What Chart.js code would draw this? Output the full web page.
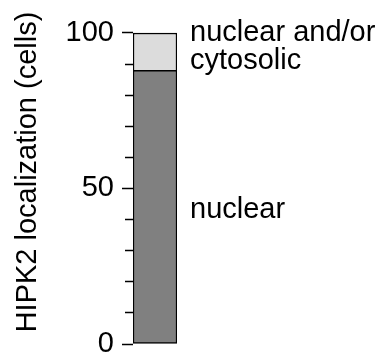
<!DOCTYPE html>
<html><head><meta charset="utf-8">
<script src="https://cdn.jsdelivr.net/npm/chart.js@4"></script>
<style>html,body{margin:0;padding:0;background:#fff}</style>
</head><body>
<canvas id="c" width="386" height="356"></canvas>
<script>
// ---- data ----
const categories = [''];
const nuclearValues = [88];
const nuclearOrCytosolicValues = [12];
const segmentNames = ['nuclear', ['nuclear and/or', 'cytosolic']];
const segmentLabelValues = [43, 95.5];
const yTickValues = [0, 10, 20, 30, 40, 50, 60, 70, 80, 90, 100];
const yLabeledTicks = [0, 50, 100];
const yTitle = 'HIPK2 localization (cells)';

const FONT = "'Liberation Sans', Arial, Helvetica, sans-serif";
const yMin = 0, yMax = 101.56;

new Chart(document.getElementById('c'), {
  type: 'bar',
  data: {
    labels: categories,
    datasets: [
      {label: 'nuclear', data: nuclearValues, backgroundColor: '#808080', borderColor: '#000000',
       borderWidth: 1.5, borderSkipped: false, barPercentage: 1, categoryPercentage: 1},
      {label: 'nuclear and/or cytosolic', data: nuclearOrCytosolicValues, backgroundColor: '#dcdcdc', borderColor: '#000000',
       borderWidth: 1.5, borderSkipped: 'bottom', barPercentage: 1, categoryPercentage: 1}
    ]
  },
  options: {
    responsive: false,
    animation: false,
    layout: {padding: {top: 0, bottom: 12, left: 0, right: 0}},
    plugins: {
      legend: {display: false},
      tooltip: {enabled: false},
      title: {display: true, position: 'left', text: yTitle, color: '#000',
        font: {family: FONT, size: 29, weight: 'normal'}, padding: {top: 10.6, bottom: 0}}
    },
    scales: {
      x: {stacked: true, display: false},
      y: {
        stacked: true, position: 'left', min: yMin, max: yMax,
        afterBuildTicks: s => { s.ticks = yTickValues.map(v => ({value: v})); },
        afterFit: s => { s.width = 87.6; },
        border: {display: false},
        grid: {drawOnChartArea: false, drawTicks: true, tickLength: 19, tickColor: '#000', tickWidth: 1.5,
          tickBorderDash: ctx => (ctx.tick && yLabeledTicks.includes(ctx.tick.value)) ? [0, 8, 11, 100] : [0, 11, 8, 100]},
        ticks: {padding: 0, color: '#000', autoSkip: false,
          font: {family: FONT, size: 29, lineHeight: 0.7},
          callback: v => yLabeledTicks.includes(v) ? String(v) : ''}
      },
      y2: {
        position: 'right', min: yMin, max: yMax,
        afterBuildTicks: s => { s.ticks = segmentLabelValues.map(v => ({value: v})); },
        afterFit: s => { s.width = 209; },
        border: {display: false},
        grid: {drawOnChartArea: false, drawTicks: true, tickLength: 13, tickColor: 'rgba(0,0,0,0)'},
        ticks: {padding: 0, color: '#000', autoSkip: false,
          font: ctx => ({family: FONT, size: 29, lineHeight: Array.isArray(segmentNames[ctx.index]) ? 0.97 : 0.7}),
          callback: (v, i) => segmentNames[i]}
      }
    }
  }
});
</script>
</body></html>
